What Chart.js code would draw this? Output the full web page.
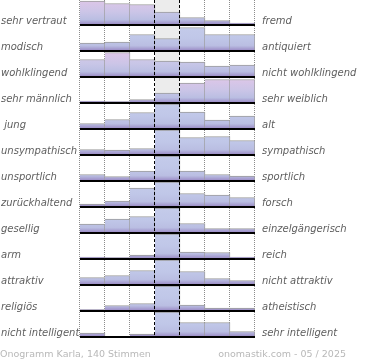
<!DOCTYPE html>
<html>
<head>
<meta charset="utf-8">
<script src="https://cdn.jsdelivr.net/npm/chart.js@4/dist/chart.umd.min.js"></script>
<style>
  body { margin: 0; background: #fff; width: 370px; height: 360px; overflow: hidden; position: relative; }
  canvas { position: absolute; left: 0; display: block; }
</style>
</head>
<body>
<script>
// left / right poles of each scale
const leftLabels = ["sehr vertraut", "modisch", "wohlklingend", "sehr männlich", " jung", "unsympathisch",
  "unsportlich", "zurückhaltend", "gesellig", "arm", "attraktiv", "religiös", "nicht intelligent"];
const rightLabels = ["fremd", "antiquiert", "nicht wohlklingend", "sehr weiblich", "alt", "sympathisch",
  "sportlich", "forsch", "einzelgängerisch", "reich", "nicht attraktiv", "atheistisch", "sehr intelligent"];
const steps = ["1", "2", "3", "4", "5", "6", "7"];

// share of votes per step (scale 0..24, centre column capped)
const row01 = [23, 20.5, 19.5, 12, 6.5, 3.5, 1];
const row02 = [7, 8, 15.5, 11.5, 22.5, 15.5, 15.5];
const row03 = [16.5, 23.5, 16.5, 15, 14, 10, 11];
const row04 = [1, 0.5, 2.5, 9, 19, 22.5, 22.5];
const row05 = [4.5, 8.5, 15.5, 24, 16, 8, 12];
const row06 = [4.5, 4, 5.5, 24, 16.5, 17.5, 13.5];
const row07 = [5.5, 3.5, 9, 24, 9, 5.5, 4];
const row08 = [2, 5, 18, 24, 12.5, 11, 8.5];
const row09 = [8, 13, 15.5, 24, 8.5, 3.5, 3.5];
const row10 = [1, 0.5, 3, 24, 6, 5.5, 1];
const row11 = [6.5, 8.5, 13.5, 24, 12.5, 5.5, 3.5];
const row12 = [0.5, 4.5, 6.5, 24, 5, 2, 2];
const row13 = [3, 0, 2, 24, 13.5, 13.5, 4.5];
const rows = [row01, row02, row03, row04, row05, row06, row07, row08, row09, row10, row11, row12, row13];

// pink tint of the bar tops (style only)
const pinkTint = [
  [1, 1, 1, .5, .4, .3, .3],
  null,
  [.7, 1, .7, .6, .6, .5, .5],
  [0, 0, .3, .5, 1, 1, 1],
];

const ROW_H = 26;
const blueTop = [196, 203, 234];
const pinkTop = [222, 198, 232];

function mix(a, b, t) {
  return "rgb(" + a.map((v, i) => Math.round(v + (b[i] - v) * t)).join(",") + ")";
}

function barFill(c, row) {
  const chart = c.chart;
  const area = chart.chartArea;
  const tint = pinkTint[row] ? pinkTint[row][c.dataIndex] || 0 : 0;
  if (!area) return mix(blueTop, pinkTop, tint);
  const g = chart.ctx.createLinearGradient(0, area.top, 0, area.bottom);
  g.addColorStop(0, mix(blueTop, pinkTop, tint));
  g.addColorStop(0.5, mix([192, 199, 232], [210, 196, 230], tint * 0.6));
  g.addColorStop(0.82, "rgb(186,190,226)");
  g.addColorStop(1, "rgb(158,144,200)");
  return g;
}

const rowDeco = {
  id: "rowDeco",
  beforeDatasetsDraw(chart, args, opts) {
    const { ctx, chartArea: a, scales: { x } } = chart;
    const w = x.getPixelForValue(1) - x.getPixelForValue(0);
    const b0 = x.getPixelForValue(0) - w / 2;
    ctx.save();
    ctx.fillStyle = "#ececec";
    ctx.fillRect(b0 + 3 * w, a.top, w, a.bottom - a.top);
    ctx.strokeStyle = "#8c8c8c";
    ctx.lineWidth = 1;
    ctx.setLineDash([1, 1]);
    [0, 1, 2, 5, 6, 7].forEach(k => {
      const px = Math.round(b0 + k * w) - 0.5;
      ctx.beginPath();
      ctx.moveTo(px, 0);
      ctx.lineTo(px, chart.height);
      ctx.stroke();
    });
    ctx.restore();
  },
  afterDatasetsDraw(chart, args, opts) {
    const { ctx, chartArea: a, scales: { x } } = chart;
    const w = x.getPixelForValue(1) - x.getPixelForValue(0);
    const b0 = x.getPixelForValue(0) - w / 2;
    ctx.save();
    ctx.strokeStyle = "#000";
    ctx.lineWidth = 1;
    ctx.setLineDash([3, 2]);
    [3, 4].forEach(k => {
      const px = Math.round(b0 + k * w) - 0.5;
      ctx.beginPath();
      ctx.moveTo(px, 0);
      ctx.lineTo(px, chart.height);
      ctx.stroke();
    });
    ctx.setLineDash([]);
    ctx.fillStyle = "#000";
    ctx.fillRect(a.left, a.bottom, a.right - a.left, 2);
    // pole labels
    ctx.font = "italic 10px 'DejaVu Sans'";
    ctx.fillStyle = "#5e5e5e";
    ctx.textBaseline = "alphabetic";
    ctx.textAlign = "left";
    ctx.fillText(opts.left, 1, 24);
    ctx.fillText(opts.right, 262, 24);
    ctx.restore();
  },
};

rows.forEach((values, i) => {
  const cv = document.createElement("canvas");
  cv.width = 370;
  cv.height = ROW_H;
  cv.style.top = (i * ROW_H) + "px";
  document.body.appendChild(cv);
  new Chart(cv, {
    type: "bar",
    data: {
      labels: steps,
      datasets: [{
        data: values,
        backgroundColor: c => barFill(c, i),
        borderColor: "#9c9c9c",
        borderWidth: { top: 1, right: 1, left: 0, bottom: 0 },
        categoryPercentage: 1,
        barPercentage: 1,
      }],
    },
    options: {
      responsive: false,
      animation: false,
      devicePixelRatio: 1,
      events: [],
      layout: { padding: { left: 80, right: 115, top: 0, bottom: 2 } },
      plugins: {
        legend: { display: false },
        tooltip: { enabled: false },
        rowDeco: { left: leftLabels[i], right: rightLabels[i] },
      },
      scales: {
        x: { display: false },
        y: { display: false, min: 0, max: 24 },
      },
    },
    plugins: [rowDeco],
  });
});

// footer
const foot = document.createElement("canvas");
foot.width = 370;
foot.height = 22;
foot.style.top = (rows.length * ROW_H) + "px";
document.body.appendChild(foot);
const fctx = foot.getContext("2d");
fctx.font = "9.5px 'DejaVu Sans'";
fctx.fillStyle = "#b8b8b8";
fctx.textBaseline = "alphabetic";
fctx.textAlign = "left";
fctx.fillText("Onogramm Karla, 140 Stimmen", 0, 19);
fctx.textAlign = "right";
fctx.fillText("onomastik.com - 05 / 2025", 346, 19);
</script>
</body>
</html>
